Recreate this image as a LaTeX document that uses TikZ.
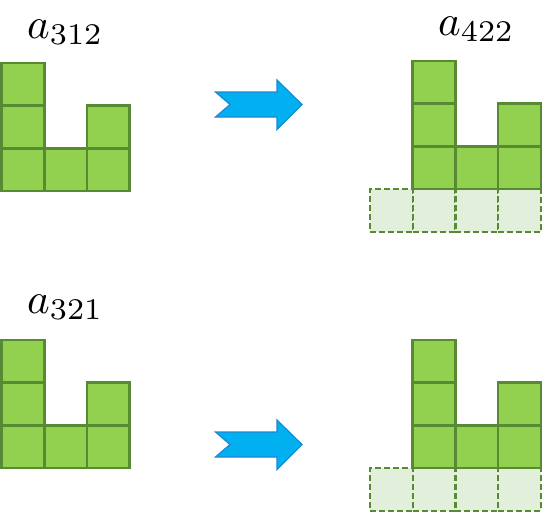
\documentclass[tikz,border=0pt]{standalone}
\usepackage{graphicx}
\definecolor{cellgreen}{HTML}{92D050}
\definecolor{celledge}{HTML}{578A33}
\definecolor{ghostfill}{HTML}{E2EFDA}
\definecolor{arrowfill}{HTML}{00B0F0}
\definecolor{arrowedge}{HTML}{1C87D2}
\tikzset{
  cell/.style={draw=celledge, fill=cellgreen, line width=2.6pt, minimum size=42.7pt, inner sep=0pt, outer sep=0pt},
  ghost/.style={draw=celledge, fill=ghostfill, line width=2.2pt, dash pattern=on 6pt off 3pt, minimum size=42.7pt, inner sep=0pt, outer sep=0pt},
  bigarrow/.style={fill=arrowfill, draw=arrowedge, line width=1.2pt, line join=miter},
  lbl/.style={anchor=base west, inner sep=0pt}
}
\newcommand{\biglabel}[1]{\scalebox{4.3}{$#1$}}
\begin{document}
\begin{tikzpicture}[x=1pt,y=-1pt]
\useasboundingbox (0,0) rectangle (543,512);
% ---------- top left ----------
\node[lbl] (l312) at (27,38) {\biglabel{a_{312}}};
\node[cell] (a11) at (22.85,169.65) {};
\node[cell] (a12) at (22.85,126.95) {};
\node[cell] (a13) at (22.85,84.25) {};
\node[cell] (a21) at (65.55,169.65) {};
\node[cell] (a31) at (108.25,169.65) {};
\node[cell] (a32) at (108.25,126.95) {};
% ---------- top arrow ----------
\draw[bigarrow] (215.5,92) -- (230,104.5) -- (215.5,117) -- (277,117) -- (277,129.5) -- (302,104.5) -- (277,80) -- (277,92) -- cycle;
% ---------- top right ----------
\node[lbl] (l422) at (438,35) {\biglabel{a_{422}}};
\node[ghost] (g1) at (391.4,210.5) {};
\node[ghost] (g2) at (434.1,210.5) {};
\node[ghost] (g3) at (476.8,210.5) {};
\node[ghost] (g4) at (519.5,210.5) {};
\node[cell] (b21) at (434.1,167.8) {};
\node[cell] (b22) at (434.1,125.1) {};
\node[cell] (b23) at (434.1,82.4) {};
\node[cell] (b31) at (476.8,167.8) {};
\node[cell] (b41) at (519.5,167.8) {};
\node[cell] (b42) at (519.5,125.1) {};
% ---------- bottom left ----------
\node[lbl] (l321) at (27,313) {\biglabel{a_{321}}};
\node[cell] (c11) at (22.85,446.6) {};
\node[cell] (c12) at (22.85,403.9) {};
\node[cell] (c13) at (22.85,361.2) {};
\node[cell] (c21) at (65.55,446.6) {};
\node[cell] (c31) at (108.25,446.6) {};
\node[cell] (c32) at (108.25,403.9) {};
% ---------- bottom arrow ----------
\draw[bigarrow] (215.5,432) -- (230,444.5) -- (215.5,457) -- (277,457) -- (277,469.5) -- (302,444.5) -- (277,420) -- (277,432) -- cycle;
% ---------- bottom right ----------
\node[ghost] (h1) at (391.4,489.3) {};
\node[ghost] (h2) at (434.1,489.3) {};
\node[ghost] (h3) at (476.8,489.3) {};
\node[ghost] (h4) at (519.5,489.3) {};
\node[cell] (d21) at (434.1,446.6) {};
\node[cell] (d22) at (434.1,403.9) {};
\node[cell] (d23) at (434.1,361.2) {};
\node[cell] (d31) at (476.8,446.6) {};
\node[cell] (d41) at (519.5,446.6) {};
\node[cell] (d42) at (519.5,403.9) {};
\end{tikzpicture}
\end{document}
